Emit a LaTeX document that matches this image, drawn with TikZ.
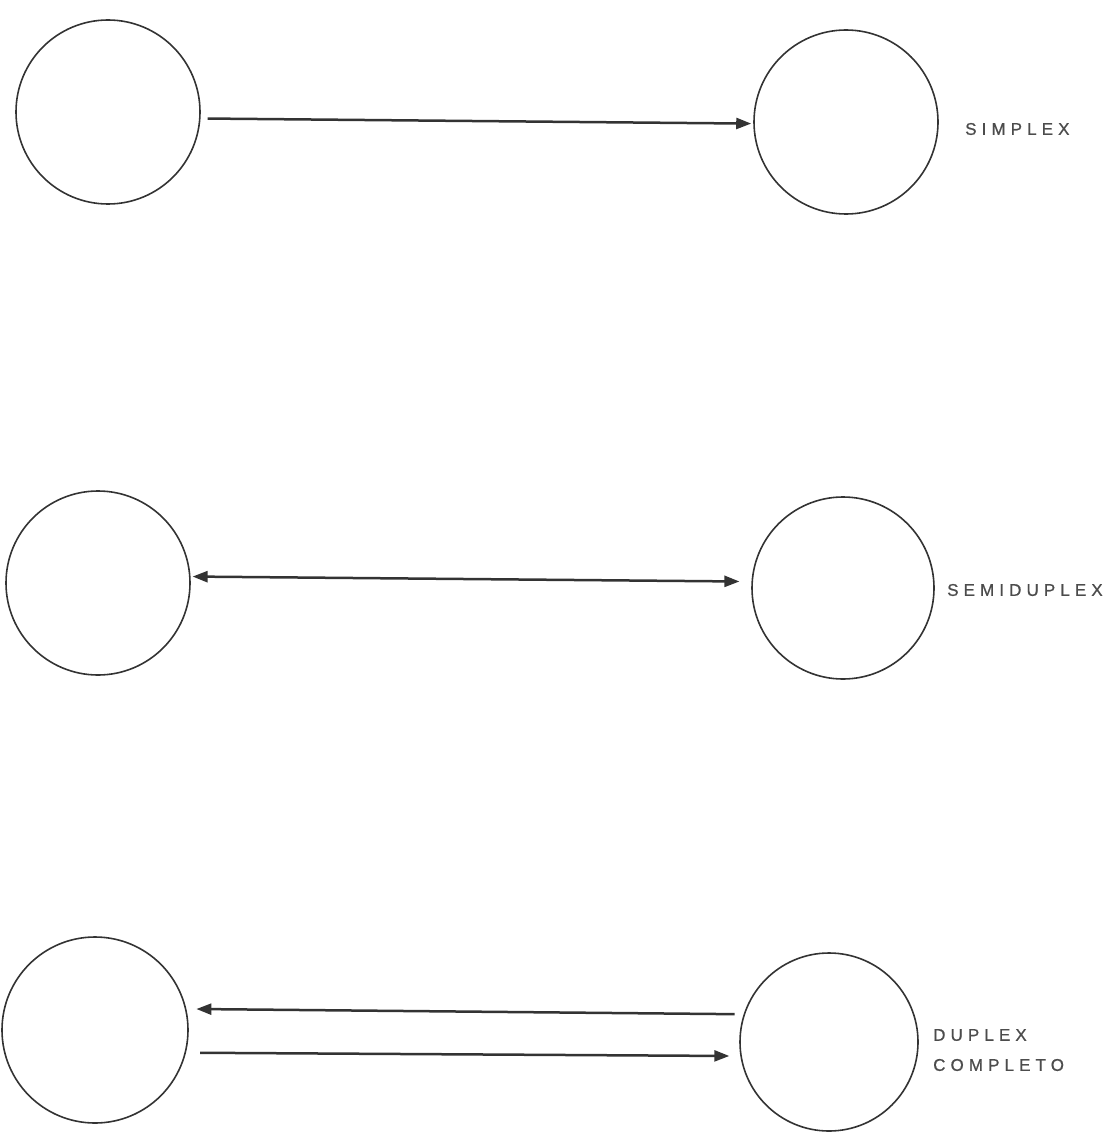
\documentclass[tikz,border=0pt]{standalone}
\usepackage{fontspec}
\setmainfont{Liberation Sans}
\newfontfamily\labfont[LetterSpace=30,FakeBold=0.8]{Liberation Sans}
\usetikzlibrary{arrows.meta}
\begin{document}
\begin{tikzpicture}[x=1pt,y=-1pt,
  station/.style={circle,draw=black!80,line width=1.6pt,inner sep=0pt},
  arr/.style={draw=black!80,line width=2.5pt,-{Triangle[length=15pt,width=11pt]}},
  darr/.style={draw=black!80,line width=2.5pt,{Triangle[length=15pt,width=11pt]}-{Triangle[length=15pt,width=11pt]}},
  lab/.style={anchor=west,text=black!70,inner sep=0pt,font=\labfont\fontsize{17}{20}\selectfont}]
\useasboundingbox (0,0) rectangle (1107,1134);
% row 1
\node[station,minimum size=184pt] (a1) at (108,112) {};
\node[station,minimum size=184pt] (b1) at (846,122) {};
\draw[arr,shorten <=7pt,shorten >=2pt] (a1.-4) -- (b1.181);
\node[lab] (l1) at (965,129) {SIMPLEX};
% row 2
\node[station,minimum size=184pt] (a2) at (98,583) {};
\node[station,minimum size=182pt] (b2) at (843,588) {};
\draw[darr,shorten <=2pt,shorten >=12pt] (a2.4) -- (b2.176);
\node[lab] (l2) at (947,590) {SEMIDUPLEX};
% row 3
\node[station,minimum size=186pt] (a3) at (95,1030) {};
\node[station,minimum size=178pt] (b3) at (829,1042) {};
\draw[arr,shorten <=9pt,shorten >=10pt] (b3.162) -- (a3.13);
\draw[arr,shorten <=14pt,shorten >=11pt] (a3.-14) -- (b3.189);
\node[lab] (l3) at (933,1035) {DUPLEX};
\node[lab] (l4) at (933,1065) {COMPLETO};
\end{tikzpicture}
\end{document}
